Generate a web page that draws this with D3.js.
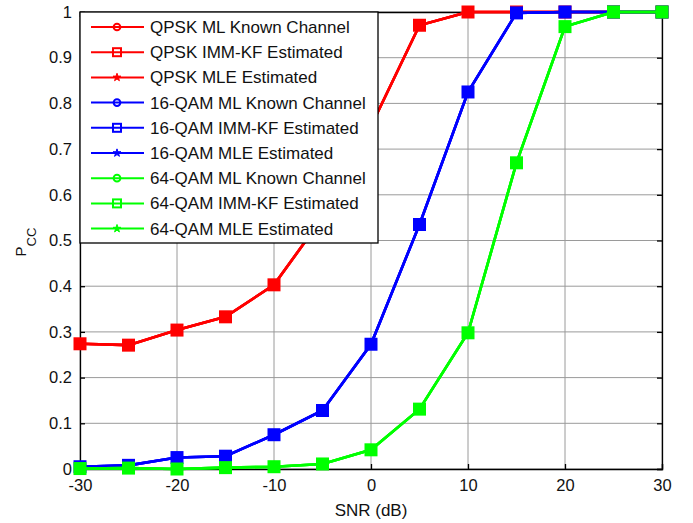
<!DOCTYPE html>
<html>
<head>
<meta charset="utf-8">
<script src="https://cdn.jsdelivr.net/npm/d3@7"></script>
<style>
    body { margin: 0; background: #fff; }
    svg { font-family: "Liberation Sans", Arial, sans-serif; }
</style>
</head>
<body>
<div id="chart"></div>
<script>
// SNR points (dB)
const snr = [-30, -25, -20, -15, -10, -5, 0, 5, 10, 15, 20, 25, 30];

// probability of correct classification
const qpsk = [0.274, 0.271, 0.304, 0.333, 0.403, 0.55, 0.75, 0.971, 1, 1, 1, 1, 1];
const qam16 = [0.005, 0.008, 0.025, 0.028, 0.075, 0.128, 0.273, 0.535, 0.825, 0.998, 1, 1, 1];
const qam64 = [0.001, 0.002, 0.0, 0.003, 0.005, 0.011, 0.042, 0.131, 0.298, 0.67, 0.968, 1, 1];

const xTicks = [-30, -20, -10, 0, 10, 20, 30];
const yTicks = [0, 0.1, 0.2, 0.3, 0.4, 0.5, 0.6, 0.7, 0.8, 0.9, 1];

const modulations = ["QPSK", "16-QAM", "64-QAM"];
const colors = ["#ff0000", "#0000ff", "#00ff00"];
const methods = ["ML Known Channel", "IMM-KF Estimated", "MLE Estimated"];
const markers = ["circle", "square", "star"];

var width = 693, height = 523;
var margin = { top: 12, right: 31, bottom: 54, left: 80 };
var innerW = width - margin.left - margin.right;
var innerH = height - margin.top - margin.bottom;

var svg = d3.select("#chart").append("svg")
    .attr("width", width)
    .attr("height", height);

var g = svg.append("g")
    .attr("transform", "translate(" + margin.left + "," + margin.top + ")");

var x = d3.scaleLinear().domain([-30, 30]).range([0, innerW]);
var y = d3.scaleLinear().domain([0, 1]).range([innerH, 0]);

// grid
g.selectAll(".gx").data(xTicks).enter().append("line")
    .attr("x1", d => x(d)).attr("x2", d => x(d))
    .attr("y1", 0).attr("y2", innerH)
    .attr("stroke", "#9a9a9a").attr("stroke-width", 1);
g.selectAll(".gy").data(yTicks).enter().append("line")
    .attr("x1", 0).attr("x2", innerW)
    .attr("y1", d => y(d)).attr("y2", d => y(d))
    .attr("stroke", "#9a9a9a").attr("stroke-width", 1);

// axes, ticks pointing inward on all four sides
var fmt = d => String(d);
g.append("g").attr("transform", "translate(0," + innerH + ")")
    .call(d3.axisBottom(x).tickValues(xTicks).tickSize(-5).tickPadding(10).tickFormat(fmt));
g.append("g")
    .call(d3.axisLeft(y).tickValues(yTicks).tickSize(-5).tickPadding(8).tickFormat(fmt));
g.append("g")
    .call(d3.axisTop(x).tickValues(xTicks).tickSize(-5).tickFormat(""));
g.append("g").attr("transform", "translate(" + innerW + ",0)")
    .call(d3.axisRight(y).tickValues(yTicks).tickSize(-5).tickFormat(""));

g.selectAll(".domain").attr("stroke", "#000").attr("stroke-width", 1.3);
g.selectAll(".tick line").attr("stroke", "#000").attr("stroke-width", 1.3);
g.selectAll(".tick text").attr("fill", "#111").style("font-size", "16.5px");

function drawMarker(sel, type, color, size, filled) {
    if (type === "circle") {
        sel.append("circle").attr("r", size * 0.42)
            .attr("fill", "none").attr("stroke", color).attr("stroke-width", 2);
    } else if (type === "square") {
        sel.append("rect")
            .attr("x", -size / 2).attr("y", -size / 2)
            .attr("width", size).attr("height", size)
            .attr("fill", filled ? color : "none").attr("stroke", color).attr("stroke-width", 2);
    } else {
        sel.append("path")
            .attr("d", d3.symbol().type(d3.symbolStar).size(size * 3.2)())
            .attr("fill", color).attr("stroke", color).attr("stroke-width", 1);
    }
}

var allData = [qpsk, qam16, qam64];
var line = d3.line().x(d => x(d[0])).y(d => y(d[1]));

allData.forEach(function (vals, i) {
    var pts = snr.map((s, k) => [s, vals[k]]);
    // the three methods give identical curves
    markers.forEach(function (m) {
        g.append("path")
            .datum(pts)
            .attr("d", line)
            .attr("fill", "none")
            .attr("stroke", colors[i])
            .attr("stroke-width", 2.6);
    });
    ["square", "circle", "star"].forEach(function (m) {
        pts.forEach(function (p) {
            var mk = g.append("g").attr("transform", "translate(" + x(p[0]) + "," + y(p[1]) + ")");
            drawMarker(mk, m, colors[i], 11, true);
        });
    });
});

// legend
var legend = g.append("g");
var rowH = 25.2;
legend.append("rect")
    .attr("x", 0).attr("y", 0)
    .attr("width", 298).attr("height", 231)
    .attr("fill", "#fff").attr("stroke", "#000").attr("stroke-width", 1.3);

var entries = [];
modulations.forEach((mod, i) => methods.forEach((meth, j) => entries.push({ label: mod + " " + meth, color: colors[i], marker: markers[j] })));

entries.forEach(function (e, k) {
    var row = legend.append("g").attr("transform", "translate(0," + (15 + k * rowH) + ")");
    row.append("line").attr("x1", 11).attr("x2", 64)
        .attr("stroke", e.color).attr("stroke-width", 2);
    var mk = row.append("g").attr("transform", "translate(37,0)");
    drawMarker(mk, e.marker, e.color, e.marker === "star" ? 6 : 8, false);
    row.append("text").attr("x", 70).attr("y", 6)
        .style("font-size", "17px").attr("fill", "#111")
        .text(e.label);
});

// axis labels
svg.append("text")
    .attr("x", margin.left + x(0)).attr("y", 516)
    .attr("text-anchor", "middle")
    .style("font-size", "17px").attr("fill", "#111")
    .text("SNR (dB)");

var yl = svg.append("text")
    .attr("transform", "translate(26,242) rotate(-90)")
    .attr("text-anchor", "middle")
    .style("font-size", "15px").attr("fill", "#111");
yl.append("tspan").text("P");
yl.append("tspan").attr("dy", 10).style("font-size", "13px").text("CC");
</script>
</body>
</html>
